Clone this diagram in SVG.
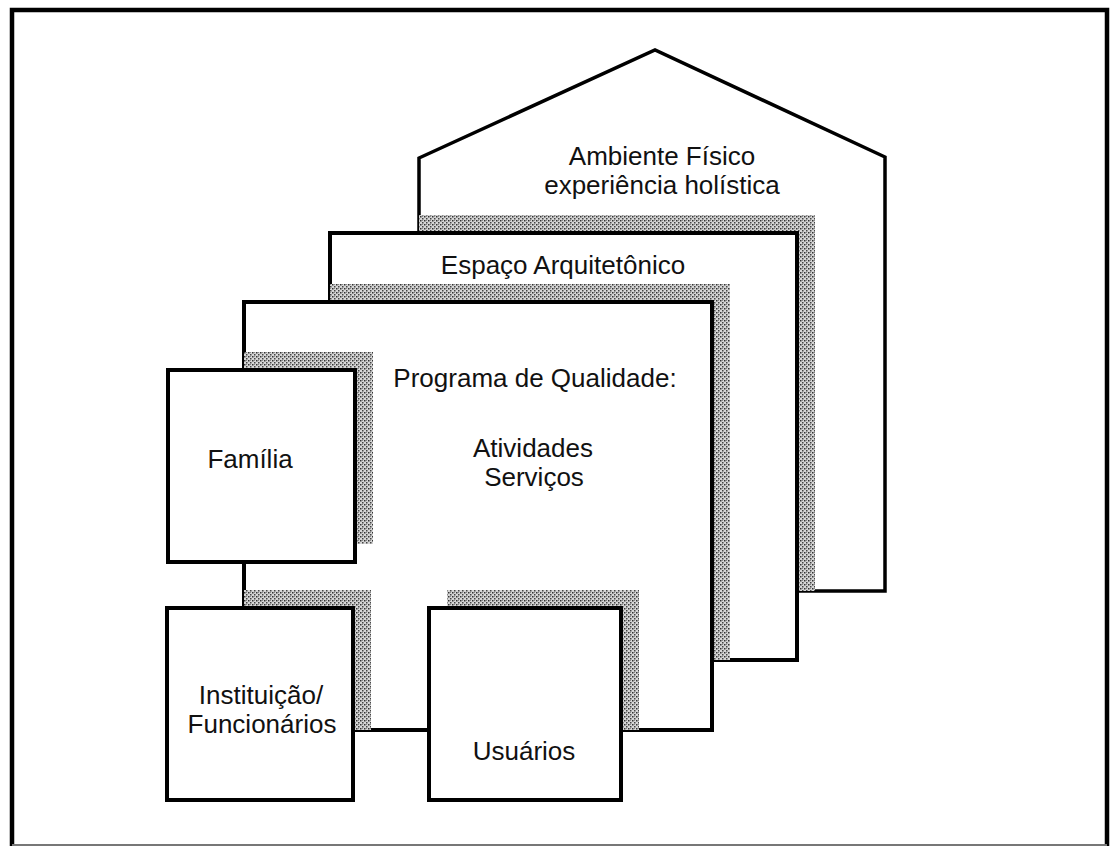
<svg xmlns="http://www.w3.org/2000/svg" width="1110" height="848" viewBox="0 0 1110 848">
  <style>
    .box { fill: #ffffff; stroke: #000000; stroke-width: 4; stroke-linejoin: miter; }
    .house { fill: #ffffff; stroke: #000000; stroke-width: 3.5; stroke-linejoin: miter; }
    .shade { fill: url(#stipple); }
    .lbl { font-family: "Liberation Sans", Arial, sans-serif; font-size: 26px; fill: #111111; text-anchor: middle; }
  </style>
  <defs>
    <pattern id="stipple" width="4" height="4" patternUnits="userSpaceOnUse">
      <rect width="4" height="4" fill="#d6d6d6"/>
      <rect x="0" y="0" width="1.5" height="1.5" fill="#333333"/>
      <rect x="2" y="2" width="1.5" height="1.5" fill="#444444"/>
      <rect x="2" y="0" width="1" height="1" fill="#8a8a8a"/>
    </pattern>
    <clipPath id="clipHouse"><polygon points="419,591 419,158 655,50 885,157 885,591"/></clipPath>
    <clipPath id="clipEspaco"><rect x="330" y="233" width="467" height="427"/></clipPath>
    <clipPath id="clipPrograma"><rect x="244" y="302" width="468" height="428"/></clipPath>
  </defs>

  <rect x="0" y="0" width="1110" height="848" fill="#ffffff"/>

  <g id="frame">
    <path d="M12,846 L12,10 L1107,10 L1107,846" fill="none" stroke="#000000" stroke-width="4.5"/>
    <path d="M12,845 L1107,845" fill="none" stroke="#777777" stroke-width="2"/>
  </g>

  <g id="ambiente-fisico">
    <polygon class="house" points="419,591 419,158 655,50 885,157 885,591"/>
    <text class="lbl" x="662" y="165">Ambiente Físico</text>
    <text class="lbl" x="662" y="194">experiência holística</text>
  </g>

  <g id="espaco-arquitetonico">
    <rect class="shade" x="348" y="215" width="467" height="427" clip-path="url(#clipHouse)"/>
    <rect class="box" x="330" y="233" width="467" height="427"/>
    <text class="lbl" x="563" y="274">Espaço Arquitetônico</text>
  </g>

  <g id="programa-qualidade">
    <rect class="shade" x="262" y="284" width="468" height="428" clip-path="url(#clipEspaco)"/>
    <rect class="box" x="244" y="302" width="468" height="428"/>
    <text class="lbl" x="535" y="387">Programa de Qualidade:</text>
    <text class="lbl" x="533" y="457">Atividades</text>
    <text class="lbl" x="534" y="486">Serviços</text>
  </g>

  <g id="connectors">
    <g clip-path="url(#clipPrograma)">
      <rect class="shade" x="186" y="352" width="187" height="192"/>
      <rect class="shade" x="185" y="590" width="186" height="192"/>
      <rect class="shade" x="447" y="590" width="192" height="192"/>
    </g>
  </g>

  <g id="familia">
    <rect class="box" x="168" y="370" width="187" height="192"/>
    <text class="lbl" x="250" y="468">Família</text>
  </g>

  <g id="instituicao-funcionarios">
    <rect class="box" x="167" y="608" width="186" height="192"/>
    <text class="lbl" x="261" y="704">Instituição/</text>
    <text class="lbl" x="262" y="733">Funcionários</text>
  </g>

  <g id="usuarios">
    <rect class="box" x="429" y="608" width="192" height="192"/>
    <text class="lbl" x="524" y="760">Usuários</text>
  </g>
</svg>
